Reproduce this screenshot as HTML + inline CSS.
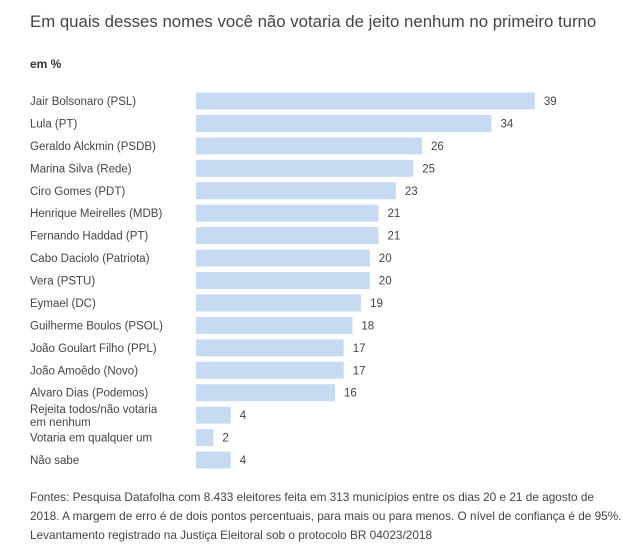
<!DOCTYPE html>
<html><head><meta charset="utf-8"><style>
body{margin:0;background:#fff;font-family:"Liberation Sans",sans-serif;color:#444;}
#wrap{position:relative;width:629px;height:555px;overflow:hidden;}
.t{position:absolute;white-space:nowrap;}
</style></head><body>
<div id="wrap">
<div class="t" style="left:30px;top:12px;font-size:16.8px;color:#444;">Em quais desses nomes você não votaria de jeito nenhum no primeiro turno</div>
<div class="t" style="left:30px;top:57px;font-size:12px;font-weight:bold;color:#333;">em %</div>
<svg id="plot" width="629" height="480" style="position:absolute;left:0;top:0"></svg>
<div class="t" style="left:30px;top:488px;font-size:11.8px;line-height:19px;color:#444;">Fontes: Pesquisa Datafolha com 8.433 eleitores feita em 313 municípios entre os dias 20 e 21 de agosto de<br>2018. A margem de erro é de dois pontos percentuais, para mais ou para menos. O nível de confiança é de 95%.<br>Levantamento registrado na Justiça Eleitoral sob o protocolo BR 04023/2018</div>
</div>
<script>
const categories=["Jair Bolsonaro (PSL)","Lula (PT)","Geraldo Alckmin (PSDB)","Marina Silva (Rede)","Ciro Gomes (PDT)","Henrique Meirelles (MDB)","Fernando Haddad (PT)","Cabo Daciolo (Patriota)","Vera (PSTU)","Eymael (DC)","Guilherme Boulos (PSOL)","João Goulart Filho (PPL)","João Amoêdo (Novo)","Alvaro Dias (Podemos)","Rejeita todos/não votaria|em nenhum","Votaria em qualquer um","Não sabe"];
const values=[39,34,26,25,23,21,21,20,20,19,18,17,17,16,4,2,4];
const ns="http://www.w3.org/2000/svg";
const svg=document.getElementById('plot');
const x0=196, pxPer=8.69;
function xs(v){return v*pxPer;}
function yc(i){return 101+i*22.44;}
categories.forEach((c,i)=>{
  const y=yc(i);
  const r=document.createElementNS(ns,'rect');
  r.setAttribute('x',x0);r.setAttribute('y',y-8.5);r.setAttribute('width',xs(values[i]));r.setAttribute('height',17);r.setAttribute('fill','#c6dbf1');
  
  
  svg.appendChild(r);
  const v=document.createElementNS(ns,'text');
  v.setAttribute('x',x0+xs(values[i])+9);v.setAttribute('y',y+4);v.setAttribute('font-size','11.5');v.setAttribute('fill','#444');
  v.textContent=values[i];
  
  
  svg.appendChild(v);
  const parts=c.split('|');
  const l=document.createElementNS(ns,'text');
  l.setAttribute('x',30);l.setAttribute('font-size','11.5');l.setAttribute('fill','#444');
  l.setAttribute('y',parts.length>1?y-2:y+4);
  
  
  parts.forEach((p,k)=>{const ts=document.createElementNS(ns,'tspan');ts.setAttribute('x',30);if(k>0)ts.setAttribute('dy','13');ts.textContent=p;l.appendChild(ts);});
  svg.appendChild(l);
});
</script>
</body></html>
